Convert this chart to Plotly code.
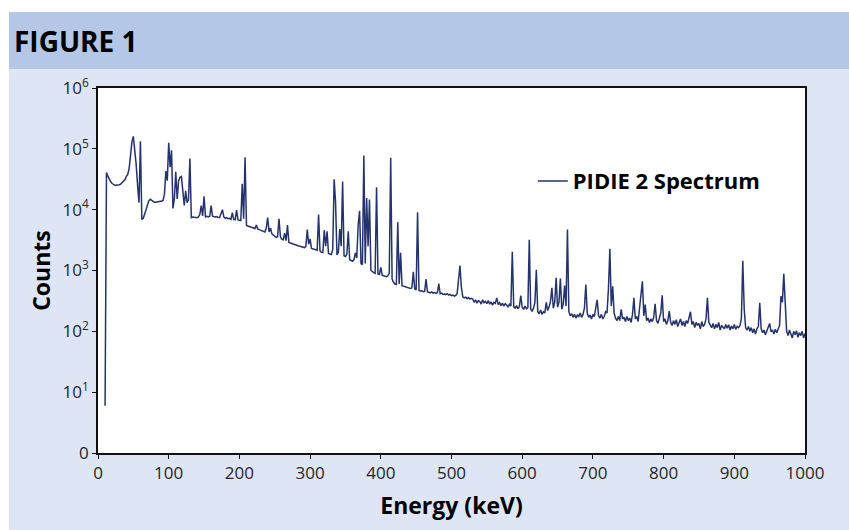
import plotly.graph_objects as go

# Energy channels (keV), 2 keV bins from 10 to 1000
energy_kev = list(range(10, 1001, 2))

# Counts per channel
counts = [
    6, 40700, 35500, 31600, 28800, 26900, 25700, 25100, 25100, 25100,
    25700, 26300, 27500, 28800, 30900, 35000, 38000, 47000, 75000, 130000,
    160000, 100000, 55000, 25000, 13000, 133000, 6900, 7200, 8300, 10000,
    12000, 14100, 14800, 14100, 13500, 13200, 13200, 13500, 13500, 13800,
    13800, 14200, 18000, 43000, 30000, 126000, 50000, 95000, 10500, 15000,
    42000, 15000, 30000, 34000, 35000, 16600, 11700, 20400, 13000, 14500,
    69000, 7400, 7600, 7500, 7400, 7400, 7600, 8300, 11700, 7900,
    16600, 7600, 7800, 7600, 7800, 11700, 7800, 7600, 7600, 7700,
    7400, 7400, 8900, 10000, 7600, 7200, 7400, 7100, 7200, 6900,
    8900, 6900, 6800, 9800, 6800, 6600, 6600, 26600, 7100, 72600,
    5500, 5400, 5300, 5200, 5100, 5000, 4900, 5600, 4800, 4700,
    4600, 4500, 4400, 4300, 5000, 7400, 4300, 5000, 4000, 3800,
    3600, 3500, 3600, 7100, 3600, 3250, 3200, 4100, 3100, 5600,
    2900, 2830, 2780, 2720, 2680, 2600, 2580, 2520, 2480, 2450,
    2400, 2380, 2500, 4700, 2700, 3300, 2300, 2280, 2250, 2200,
    2150, 8300, 2100, 2000, 1980, 4600, 2500, 4400, 1900, 1850,
    1830, 2200, 31500, 13300, 1800, 2000, 4800, 2500, 29000, 1750,
    1700, 1850, 4400, 1500, 1450, 1420, 1500, 1950, 1600, 5600,
    9600, 1300, 1250, 77500, 1300, 15500, 2500, 14700, 1000, 950,
    920, 900, 23300, 880, 860, 1130, 840, 820, 800, 790,
    820, 900, 71000, 720, 640, 600, 590, 6200, 600, 1950,
    560, 550, 540, 530, 520, 510, 505, 520, 950, 500,
    480, 9100, 470, 460, 465, 450, 455, 720, 445, 440,
    430, 445, 425, 435, 420, 430, 610, 415, 425, 405,
    410, 400, 415, 395, 405, 385, 395, 380, 390, 420,
    800, 1200, 520, 370, 355, 365, 345, 360, 340, 350,
    340, 300, 330, 290, 320, 310, 280, 330, 295, 310,
    285, 320, 280, 305, 270, 300, 290, 355, 275, 295,
    265, 290, 260, 285, 270, 250, 280, 260, 2040, 255,
    240, 265, 235, 255, 385, 250, 230, 260, 235, 245,
    3200, 230, 215, 240, 300, 1030, 210, 195, 225, 190,
    210, 200, 300, 220, 250, 310, 520, 240, 300, 760,
    250, 300, 740, 230, 280, 565, 260, 4700, 210, 180,
    195, 170, 190, 165, 185, 175, 200, 170, 190, 240,
    590, 200, 170, 185, 160, 190, 175, 250, 330, 180,
    165, 190, 160, 175, 210, 200, 500, 2270, 260, 550,
    200, 165, 150, 175, 150, 230, 160, 170, 145, 175,
    150, 165, 140, 190, 355, 160, 175, 145, 250, 400,
    665, 180, 275, 150, 165, 140, 160, 145, 170, 283,
    150, 135, 165, 200, 390, 145, 160, 130, 150, 215,
    140, 125, 150, 130, 155, 120, 140, 160, 125, 145,
    120, 150, 135, 170, 210, 130, 145, 115, 140, 125,
    135, 110, 145, 120, 130, 160, 355, 140, 125, 115,
    135, 110, 130, 115, 140, 105, 125, 118, 110, 130,
    112, 128, 105, 122, 110, 130, 108, 120, 115, 125,
    160, 1450, 230, 115, 105, 120, 100, 115, 95, 110,
    90, 110, 120, 295, 110, 95, 105, 88, 100, 115,
    135, 98, 105, 90, 108, 95, 110, 125, 380, 300,
    880, 240, 100, 85, 105, 90, 78, 100, 88, 102,
    80, 95, 85, 100, 78, 92,
]

series_name = "PIDIE 2 Spectrum"
x_tick_vals = [0, 100, 200, 300, 400, 500, 600, 700, 800, 900, 1000]
y_tick_vals = [1, 10, 100, 1000, 10000, 100000, 1000000]
y_tick_text = ["0", "10<sup>1</sup>", "10<sup>2</sup>", "10<sup>3</sup>",
               "10<sup>4</sup>", "10<sup>5</sup>", "10<sup>6</sup>"]

FONT = "Open Sans"

fig = go.Figure()
fig.add_trace(go.Scatter(
    x=energy_kev, y=counts, mode="lines", name=series_name,
    line=dict(color="#24336e", width=1.5),
))

axis_common = dict(
    showline=True, linecolor="#111111", linewidth=1.5, mirror=True,
    showgrid=False, zeroline=False, ticks="outside", ticklen=4,
    tickwidth=1.2, tickcolor="#111111",
    tickfont=dict(family=FONT, size=17, color="#262626"),
)

fig.update_layout(
    width=849, height=530,
    margin=dict(l=98, r=44, t=88, b=77),
    paper_bgcolor="#dee5f5", plot_bgcolor="white",
    showlegend=True,
    legend=dict(x=0.615, y=0.745, xanchor="left", yanchor="middle",
                bgcolor="rgba(0,0,0,0)",
                font=dict(family=FONT, size=22, color="black", weight="bold")),
    xaxis=dict(range=[0, 1000], tickvals=x_tick_vals,
               title=dict(text="Energy (keV)", standoff=15,
                          font=dict(family=FONT, size=23, color="black", weight="bold")),
               **axis_common),
    yaxis=dict(type="log", range=[0, 6], tickvals=y_tick_vals, ticktext=y_tick_text,
               title=dict(text="Counts", standoff=6,
                          font=dict(family=FONT, size=23, color="black", weight="bold")),
               **axis_common),
    shapes=[
        dict(type="rect", xref="paper", yref="paper", x0=-0.2, x1=1.1, y0=1.2082, y1=1.3,
             fillcolor="white", line=dict(width=0), layer="below"),
        dict(type="rect", xref="paper", yref="paper", x0=-0.12588, x1=1.1, y0=1.0521, y1=1.2082,
             fillcolor="#b4c7e7", line=dict(width=0), layer="below"),
        dict(type="rect", xref="paper", yref="paper", x0=-0.2, x1=-0.12588, y0=-0.3, y1=1.3,
             fillcolor="white", line=dict(width=0), layer="below"),
    ],
    annotations=[
        dict(text="FIGURE 1", xref="paper", yref="paper", x=-0.1215, y=1.128,
             xanchor="left", yanchor="middle", showarrow=False,
             font=dict(family=FONT, size=28, color="black", weight="bold")),
    ],
)

fig.write_html("out.html")
